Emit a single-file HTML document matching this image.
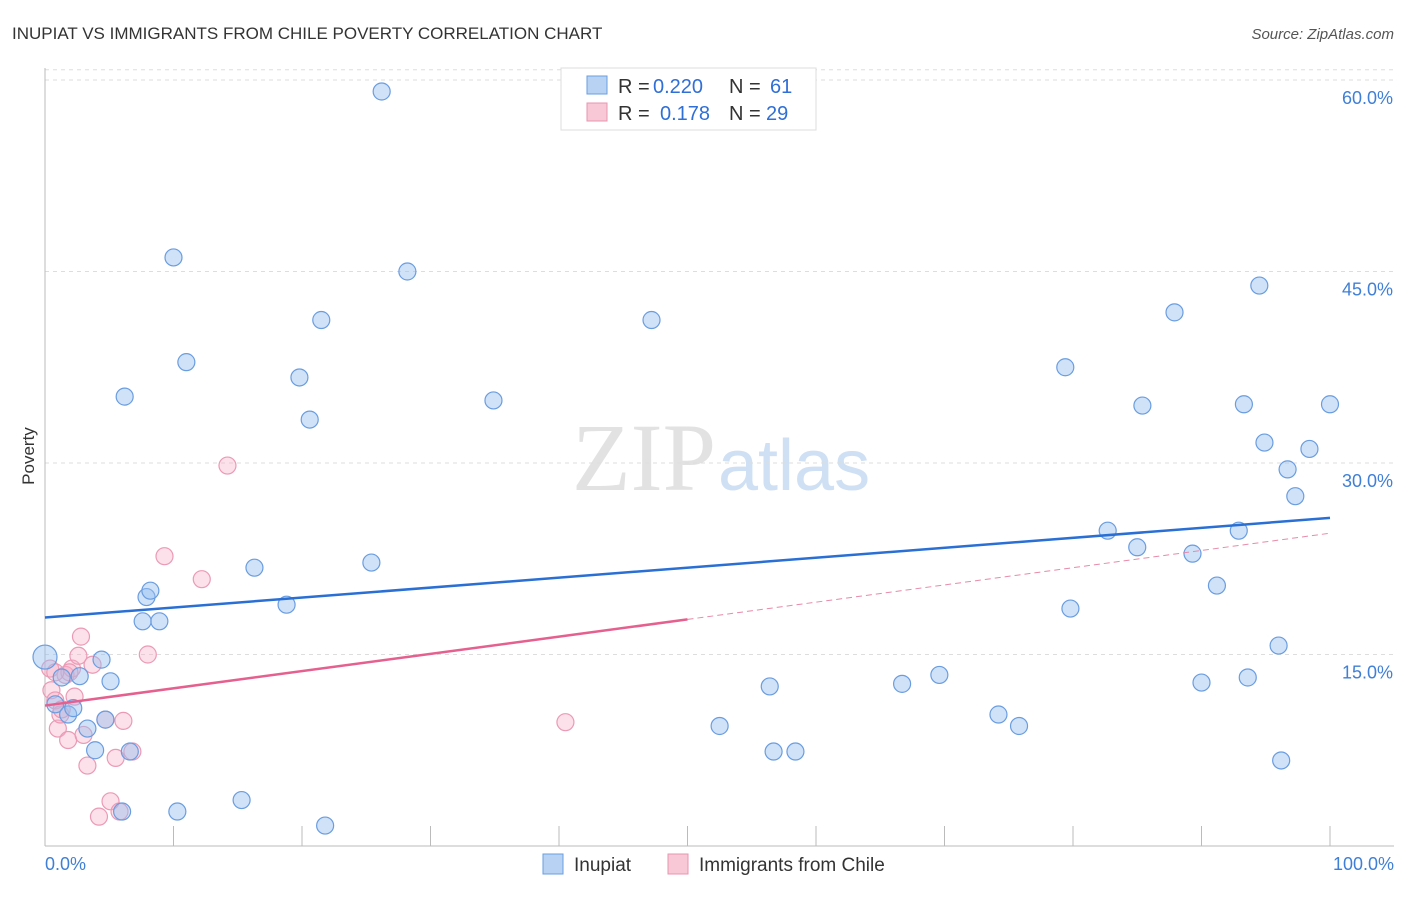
<!DOCTYPE html>
<html><head><meta charset="utf-8"><style>
body{margin:0;background:#fff;font-family:"Liberation Sans",sans-serif;}
svg text{font-family:"Liberation Sans",sans-serif;}
</style></head><body>
<svg id="c" width="1406" height="892">
<text x="12" y="39" font-size="17" fill="#333">INUPIAT VS IMMIGRANTS FROM CHILE POVERTY CORRELATION CHART</text>
<text x="1394" y="39" font-size="15" fill="#555" font-style="italic" text-anchor="end">Source: ZipAtlas.com</text>
<text x="716" y="490" font-size="96" fill="#e2e2e2" text-anchor="end" style="font-family:'Liberation Serif',serif">ZIP</text>
<text x="718" y="490" font-size="72" fill="#cfe0f4">atlas</text>
<text x="34" y="456" font-size="17" fill="#333" transform="rotate(-90 34 456)" text-anchor="middle">Poverty</text>
<g id="grid"></g><g id="marks"></g>
<g>
<rect x="561" y="68" width="255" height="62" fill="#fff" stroke="#ddd"/>
<rect x="587" y="76" width="20" height="18" fill="#b8d2f4" stroke="#6a9de0"/>
<rect x="587" y="103" width="20" height="18" fill="#f9c8d6" stroke="#e895b0"/>
<text x="618" y="93" font-size="20" fill="#333">R =</text>
<text x="653" y="93" font-size="20" fill="#2f6fd6">0.220</text>
<text x="729" y="93" font-size="20" fill="#333">N =</text>
<text x="770" y="93" font-size="20" fill="#2f6fd6">61</text>
<text x="618" y="120" font-size="20" fill="#333">R =</text>
<text x="660" y="120" font-size="20" fill="#2f6fd6">0.178</text>
<text x="729" y="120" font-size="20" fill="#333">N =</text>
<text x="766" y="120" font-size="20" fill="#2f6fd6">29</text>
</g>
<g>
<rect x="543" y="854" width="20" height="20" fill="#b8d2f4" stroke="#6a9de0"/>
<text x="574" y="871" font-size="19" fill="#333">Inupiat</text>
<rect x="668" y="854" width="20" height="20" fill="#f9c8d6" stroke="#e895b0"/>
<text x="699" y="871" font-size="19" fill="#333">Immigrants from Chile</text>
</g>
</svg>
<script>
const yTicks=[15,30,45,60];
const yTickLabels=["15.0%","30.0%","45.0%","60.0%"];
const xTickLabels=["0.0%","100.0%"];
const inupiatX=[0.0,0.8,1.3,1.8,2.2,2.7,3.3,3.9,4.4,4.7,5.1,6.0,6.2,6.6,7.6,7.9,8.2,8.9,10.0,10.3,11.0,15.3,16.3,18.8,19.8,20.6,21.5,21.8,25.4,26.2,28.2,34.9,47.2,52.5,56.4,56.7,58.4,66.7,69.6,74.2,75.8,79.4,79.8,82.7,85.0,85.4,87.9,89.3,90.0,91.2,92.9,93.3,93.6,94.5,94.9,96.0,96.2,96.7,97.3,98.4,100.0];
const inupiatY=[14.8,11.1,13.2,10.3,10.8,13.3,9.2,7.5,14.6,9.9,12.9,2.7,35.2,7.4,17.6,19.5,20.0,17.6,46.1,2.7,37.9,3.6,21.8,18.9,36.7,33.4,41.2,1.6,22.2,59.1,45.0,34.9,41.2,9.4,12.5,7.4,7.4,12.7,13.4,10.3,9.4,37.5,18.6,24.7,23.4,34.5,41.8,22.9,12.8,20.4,24.7,34.6,13.2,43.9,31.6,15.7,6.7,29.5,27.4,31.1,34.6];
const chileX=[0.4,0.5,0.8,1.0,1.2,1.6,1.8,2.1,2.3,2.6,2.8,3.0,3.3,3.7,4.2,4.7,5.1,5.5,5.8,6.1,6.8,8.0,9.3,12.2,14.2,40.5,1.9,1.3,0.8];
const chileY=[13.9,12.2,11.4,9.2,10.3,13.4,8.3,13.9,11.7,14.9,16.4,8.7,6.3,14.2,2.3,9.9,3.5,6.9,2.7,9.8,7.4,15.0,22.7,20.9,29.8,9.7,13.6,10.7,13.6];
const inupiatTrend=[17.9,25.7];
const chileTrend=[11.0,24.5];
const X0=45,X1=1330,Y0=846,PPY=191.5/15;
const sx=v=>X0+(X1-X0)*v/100, sy=v=>Y0-v*PPY;
const NS="http://www.w3.org/2000/svg";
function mk(t,a,p){const e=document.createElementNS(NS,t);for(const k in a)e.setAttribute(k,a[k]);p.appendChild(e);return e;}
const g=document.getElementById('grid'),m=document.getElementById('marks');
yTicks.forEach((t,i)=>{
 const l=mk('line',{x1:X0,x2:1394,y1:sy(t),y2:sy(t),stroke:'#ddd','stroke-dasharray':'4,4'},g);
 
 
 const tx=mk('text',{x:1393,y:sy(t)+24,'font-size':18,fill:'#3f7fd6','text-anchor':'end'},g);
 tx.textContent=yTickLabels[i];
 
 
});
const topGrid=mk('line',{x1:X0,x2:1394,y1:sy(60.8),y2:sy(60.8),stroke:'#ddd','stroke-dasharray':'4,4'},g);


const ya=mk('line',{x1:X0,x2:X0,y1:68,y2:Y0,stroke:'#bbb'},g);


const xa=mk('line',{x1:X0,x2:1394,y1:Y0,y2:Y0,stroke:'#bbb'},g);


for(let i=0;i<=10;i++){const t=mk('line',{x1:sx(i*10),x2:sx(i*10),y1:826,y2:Y0,stroke:'#bbb'},g);
 
 }
[['start',45],['end',1394]].forEach((d,i)=>{const t=mk('text',{x:d[1],y:870,'font-size':18,fill:'#3f7fd6','text-anchor':d[0]},g);t.textContent=xTickLabels[i];
 
 });
function pts(xs,ys,fill,stroke,name){xs.forEach((x,i)=>{const c=mk('circle',{cx:sx(x),cy:sy(ys[i]),r:(x===0&&name==='inupiat-point')?12:8.5,fill:fill,stroke:stroke,'stroke-width':1.2},m);
 
 });}
pts(chileX,chileY,'rgba(245,170,195,0.35)','#eb9ab5','chile-point');
pts(inupiatX,inupiatY,'rgba(150,190,240,0.45)','#6a9de0','inupiat-point');
const bl=mk('line',{x1:sx(0),x2:sx(100),y1:sy(inupiatTrend[0]),y2:sy(inupiatTrend[1]),stroke:'#2a6fd4','stroke-width':2.5},m);


const cyf=v=>chileTrend[0]+(chileTrend[1]-chileTrend[0])*v/100;
const pl=mk('line',{x1:sx(0),x2:sx(50),y1:sy(cyf(0)),y2:sy(cyf(50)),stroke:'#e5608e','stroke-width':2.5},m);


const pd=mk('line',{x1:sx(50),x2:sx(100),y1:sy(cyf(50)),y2:sy(cyf(100)),stroke:'#e88aa8','stroke-width':1,'stroke-dasharray':'6,4'},m);


</script>
</body></html>
